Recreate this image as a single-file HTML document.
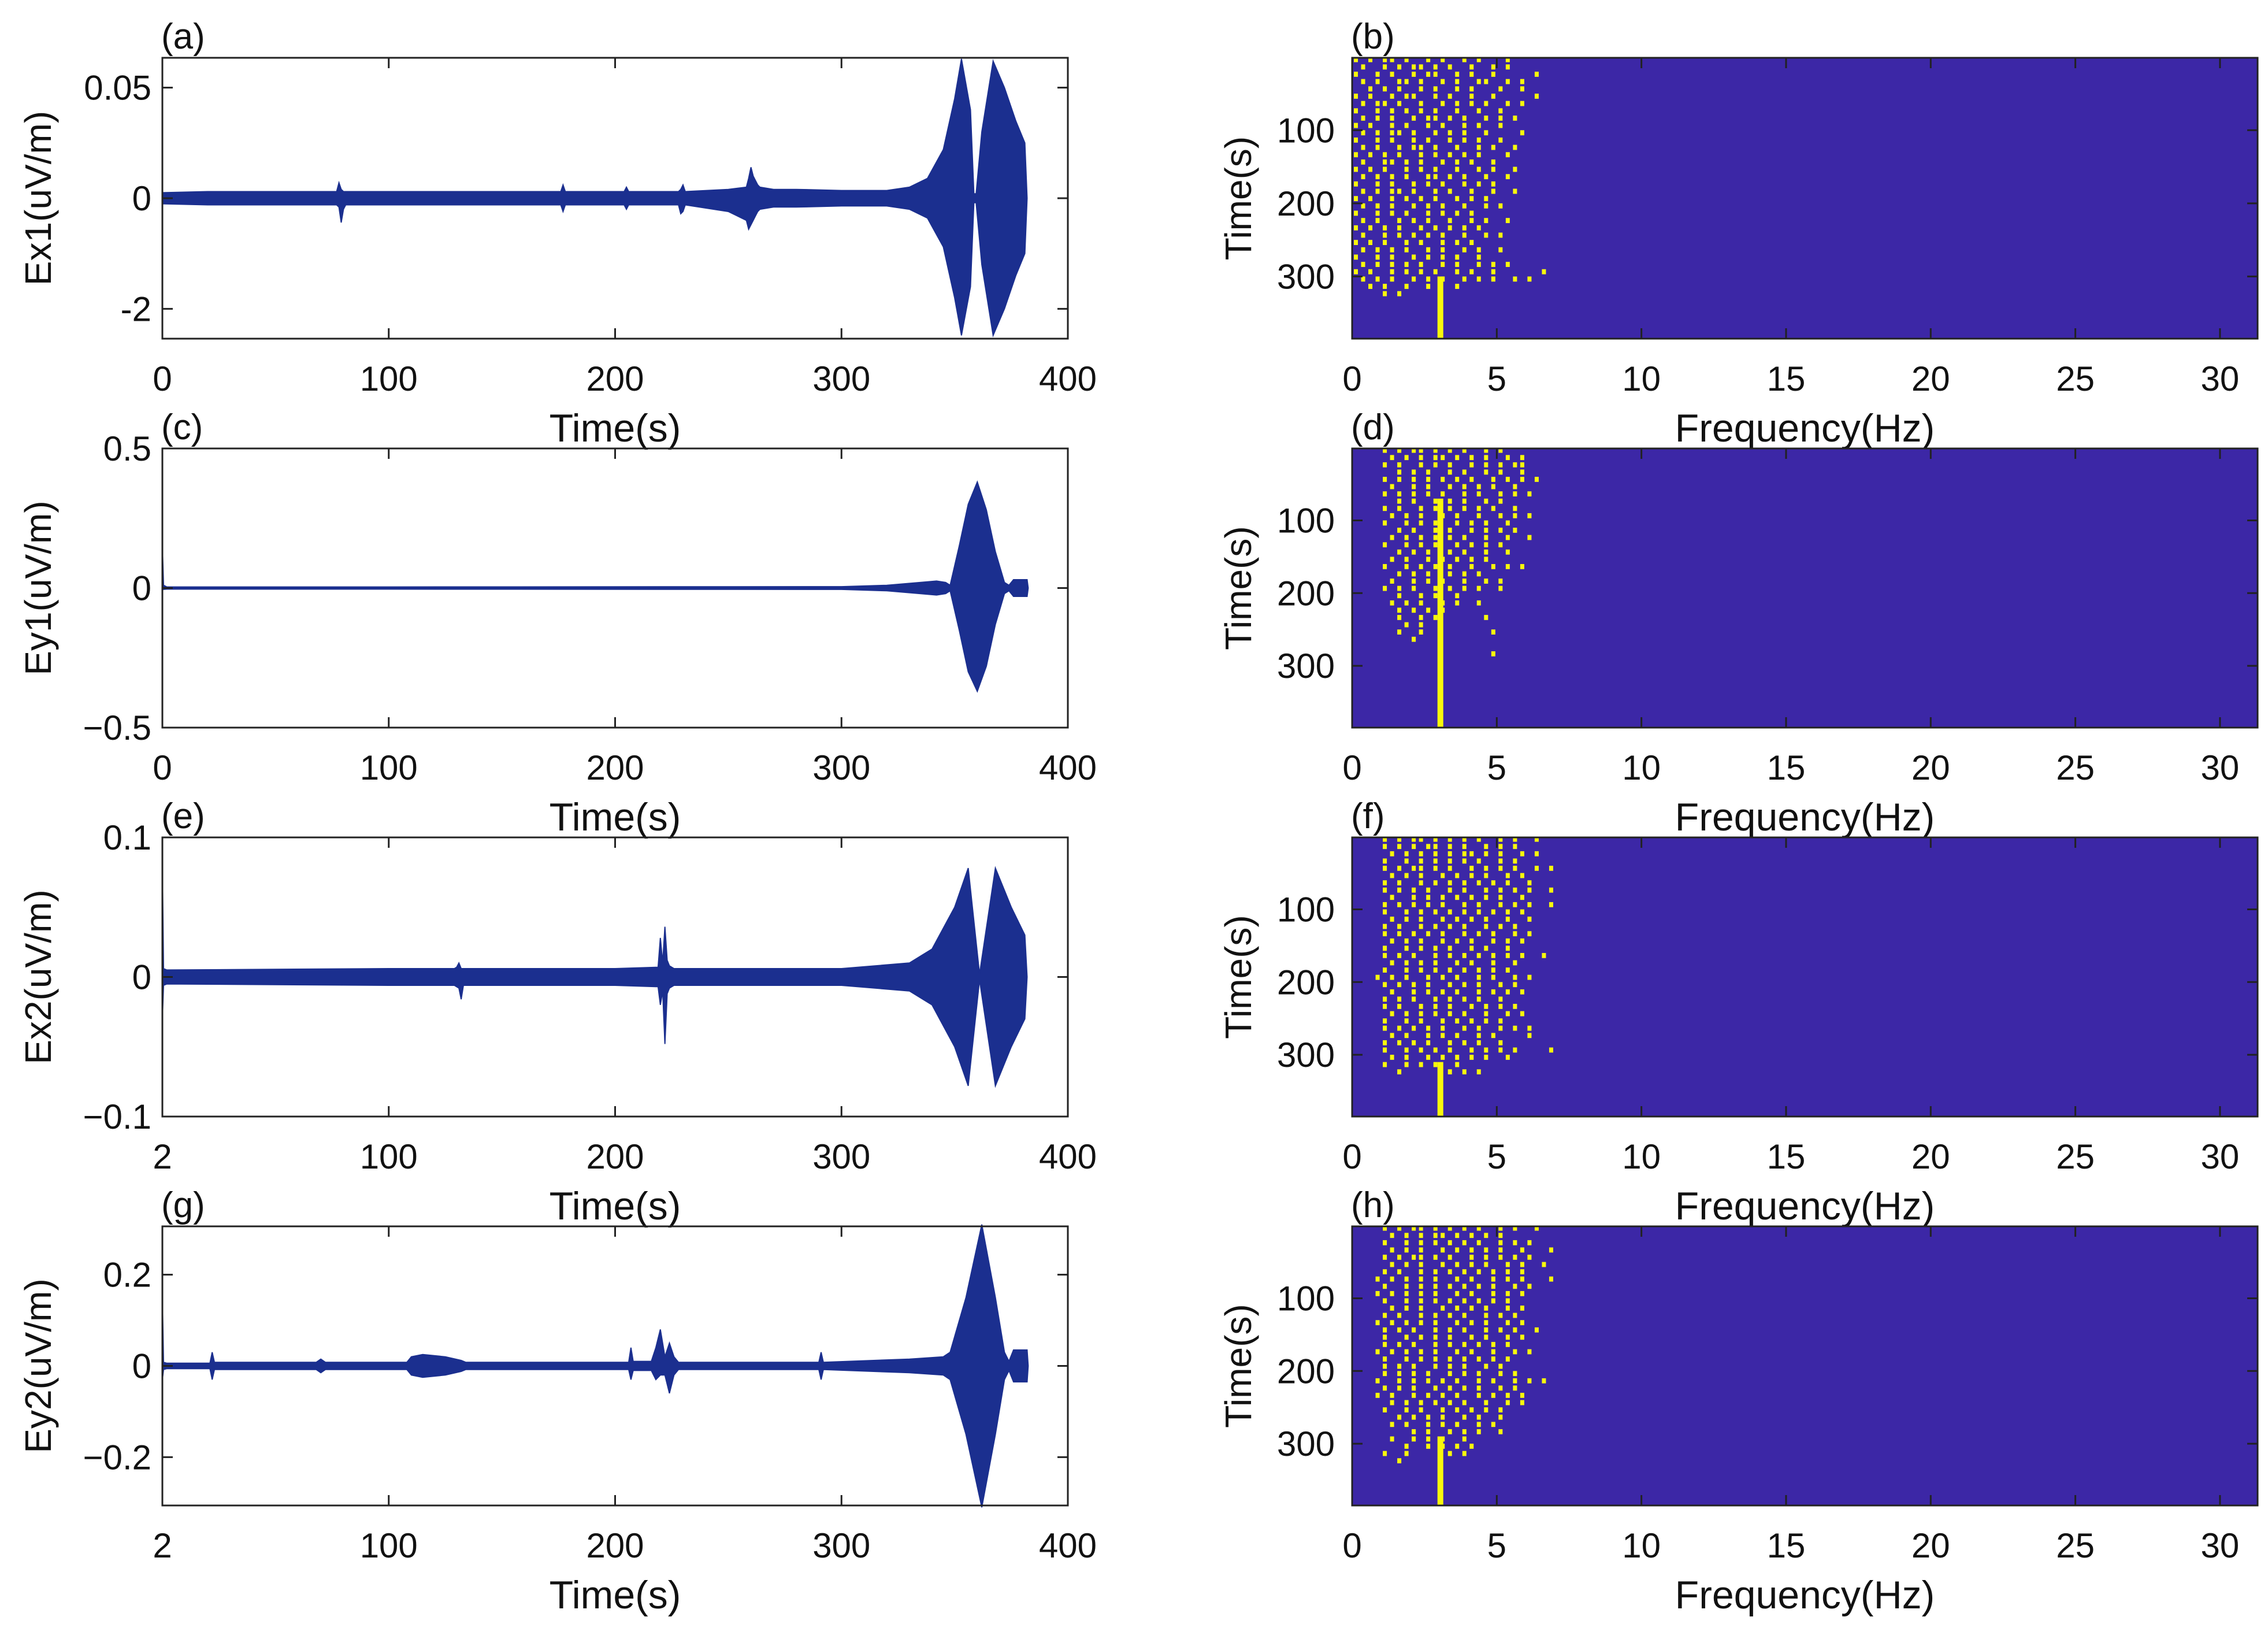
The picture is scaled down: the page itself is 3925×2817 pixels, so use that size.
<!DOCTYPE html>
<html><head><meta charset="utf-8">
<style>
html,body{margin:0;padding:0;background:#fff;}
svg{display:block;font-family:"Liberation Sans",Arial,sans-serif;}
</style></head>
<body>
<svg id="fig" width="3925" height="2817" viewBox="0 0 3925 2817" xmlns="http://www.w3.org/2000/svg"></svg>
<script>
// ---------- DATA ----------
const timeTicks = [0, 100, 200, 300, 400];
const freqTicks = [0, 5, 10, 15, 20, 25, 30];
const specTimeTicks = [100, 200, 300];

// panel (a) Ex1 envelope
const aTime = [0,20,76,77,78,79,80,81,82,90,120,175,176,177,178,179,200,204,205,206,228,229,230,231,250,258,259,260,261,262,263,264,270,280,300,320,330,338,345,350,353,357,358.5,359.5,362,367,372,377,381,382];
const aUp   = [0.0025,0.003,0.003,0.003,0.007,0.004,0.003,0.003,0.003,0.003,0.003,0.003,0.003,0.006,0.003,0.003,0.003,0.003,0.005,0.003,0.003,0.004,0.006,0.003,0.004,0.005,0.009,0.014,0.01,0.008,0.006,0.005,0.004,0.004,0.0035,0.0035,0.005,0.009,0.022,0.045,0.063,0.04,0.002,0.002,0.03,0.062,0.05,0.035,0.025,0];
const aDn   = [0.0025,0.003,0.003,0.003,0.004,0.011,0.005,0.003,0.003,0.003,0.003,0.003,0.003,0.006,0.003,0.003,0.003,0.003,0.005,0.003,0.003,0.007,0.006,0.003,0.006,0.01,0.014,0.012,0.01,0.008,0.006,0.005,0.004,0.004,0.0035,0.0035,0.005,0.009,0.022,0.045,0.062,0.04,0.002,0.002,0.03,0.062,0.05,0.035,0.025,0];
// panel (c) Ey1
const cTime = [0,0.5,2,100,300,320,335,342,346,348,352,356,360,364,368,372,374,376,382,382.5];
const cUp   = [0.15,0.01,0.004,0.004,0.005,0.01,0.02,0.025,0.02,0.01,0.15,0.3,0.38,0.28,0.13,0.02,0.01,0.03,0.03,0];
const cDn   = [0.005,0.005,0.004,0.004,0.005,0.01,0.02,0.025,0.02,0.01,0.15,0.3,0.37,0.28,0.13,0.02,0.01,0.03,0.03,0];
// panel (e) Ex2
const eTime = [0,0.5,2,100,129,130,131,132,133,200,219,220,221,222,223,224,226,300,330,340,350,356,361,368,375,381,382];
const eUp   = [0.08,0.006,0.005,0.006,0.006,0.007,0.01,0.006,0.006,0.006,0.007,0.028,0.01,0.036,0.012,0.008,0.006,0.006,0.01,0.02,0.05,0.078,0.002,0.078,0.05,0.03,0];
const eDn   = [0.03,0.006,0.005,0.006,0.006,0.007,0.008,0.016,0.006,0.006,0.007,0.02,0.01,0.048,0.012,0.008,0.006,0.006,0.01,0.02,0.05,0.078,0.002,0.078,0.05,0.03,0];
// panel (g) Ey2
const gTime = [0,0.5,2,21,22,23,68,70,72,108,110,115,125,132,134,200,206,207,208,210,212,216,218,220,222,224,226,228,290,291,292,330,345,348,355,362,368,372,374,376,382,382.5];
const gUp   = [0.15,0.008,0.006,0.006,0.03,0.008,0.008,0.015,0.008,0.008,0.02,0.025,0.02,0.012,0.008,0.008,0.008,0.04,0.01,0.01,0.01,0.01,0.04,0.08,0.02,0.05,0.02,0.008,0.008,0.03,0.008,0.015,0.02,0.03,0.15,0.31,0.15,0.03,0.01,0.035,0.035,0];
const gDn   = [0.03,0.008,0.006,0.006,0.03,0.008,0.008,0.015,0.008,0.008,0.02,0.025,0.02,0.012,0.008,0.008,0.008,0.03,0.01,0.01,0.01,0.01,0.03,0.02,0.02,0.06,0.02,0.008,0.008,0.03,0.008,0.015,0.02,0.03,0.15,0.31,0.15,0.03,0.01,0.035,0.035,0];

// spectrogram cells: rows = 10 s bins, cols = 0.25 Hz bins, '#' = yellow
const bRows = [
"#.#.##.#..#.#..#.#...#......",".#..#.#.##.#.#..#..#.#......","#..#.#..#.##..#.#..#.....#..",".#.#..##.#..#.#..##..#.#....",
"..#.#.#..#.#..#.#...#..#....","#.#..#.##..#.#..#..#.....#..",".#.##.#..#..#.#.#.#..#.#....","#..#.#.#.#.#..#..#..#.......",
".#.#.#..#.##.#.#..#.#.#.....","#.#..#.#..#.#..#.#..#.......",".#.#.##.#..#.#.#..#....#....","#..#.#..#.#..#.#.#..#.......",
".#.#..#.##.#..#..#.#..#.....","#.#.#.#..#.#.#.#.#...#......",".#..##.#.#..#.#.#..#........","#.#.#..#.#.#..#..#.#..#.....",
".#.#.#.#..##.#.#..#..#......","#..#.#..#.#.#..#.#.#........",".#.#.##.#..#.#..#..#..#.....","#.#..#.#.#.#..#.#.#.........",
".#.#.#..#.#.#..#..#.#.......","#..#.#.#..#.#.#.#...........",".#.#..#.#.#..#..#.#..#......","#.#.#.#..#.#.#.#.#..........",
".#..#.#.#.#.#..#..#.#.......","#.#.#..#.#..#.#.#...........",".#.#.#.#..#.#..#.#..#.......","#..#.#..#.#.#.#..#..........",
".#.#.#.#.#..#.#..#.#.#......","#.#..#.#.#.#..#.#..#......#.",".#.#.#..#.#.#..#.#.#..#.#...","..#.#..#..#...#.............",
"....#.#....................."];
const dRows = [
"....#.#.##.#.#.#..#.#.......",".....#.#.#.##.#.#.#..#.#....","....#.#..#.#.#..#.#.#.##....","......#.#.#..#.#..#.#..#....",
"....#.#.#.#.#.#.#..#.#.#.#..",".....#..#.#..#.#.#.#..#.....","....#.#.#.#.#..#.#..#.#.#...","......#.#..#.#.#..#.#.......",
"....#.#..#.#.#.#.#.#..#.....",".....#.#.#..#.#..#..#.#.#...","....#..#.#.#..#.#.#..#......","......#.#..#.#..#.#.#.#.....",
".....#.#.#.#.#.#..#..#..#...","....#..#.#.#..#.#.#.#.......","......#.#.#..#.#..#..#......",".....#.#..#.#.#.#.#.........",
"....#..#.#.#.#..#..#.#.#....","......#.#.#..#.#.#..........",".....#..#.#.#..#..#.#.......","....#.#.#..#.#.#.#..#.......",
"......#..#.#..#.............",".....#.#.#..#.#..#..........","......#.#.#.#...............","......#..#.#......#.........",
".......#.#..................","......#..#.........#........","........#...................","....................",
"...................#........"];
const fRows = [
"....#.#.##.#.#.#.#..#.#..#..","....#.#.#.##.#.#..#.#.#.....",".....#.#.#.#.#.##.#.#..#.#..","....#..#.#.#.#.#.#..#.#.....",
"....#.#.##.#.#..#.#.#.#..#.#",".....#.#.#..#.#.#.#..#.#....","....#.#..#.#.#.#.#.#.#..#...","....#.#.#.#..#.#..#.#.#.#..#",
".....#..#.#.#.#.#.#.#..#....","....#.#.#.#.#..#.#..#.#.#..#","....#..#.#.#.#.#.#.#.#.#....",".....#.#.#..#.#.#.#..#..#...",
"....#.#..#.#.#.#..#.#.#.....","....#.#.#.#.#..#.#.#..#.#...",".....#.#.#..#.#.#..#.#.#....","....#..#.#.#.#..#.#..#......",
"....#.#.#..#.#.#.#.#.#.#..#.",".....#.#.#.#..#.#..#..#.....","....#..#.#.#.#.#.#.#.#......","...#.#.#..#.#.#..#.#..#.#...",
"....#.#.#.#..#.#.#..#.#.....",".....#..#.#.#.#..#.#.#.#....","....#.#.#..#.#.#.#..#.......","....#.#..#.#.#..#.#.#.#.....",
".....#.#.#.#.#.#..#..#.#....","....#..#.#..#.#.#.#.#.......","....#.#.#.#.#..#.#..#.#.#...",".....#.#..#.#.#..#.#....#...",
"....#.#.#.#..#.#.#..#.......","....#..#.#.#.#..#.#.#.#....#",".....#.#..#.#.#.#.#..#......","....#..#.#.#..#.........",
"......#......#.#.#.........."];
const hRows = [
"....#.#.##.#.#.#.#..#.#..#..",".....#.#.#.##.#.#.#.#.......","....#..#.#.#.#.#.#..#.#.#...",".....#.#.#..#.#.#.#.#..#...#",
"....#.#.##.#.#..#.#.#.#.#...",".....#.#.#..#.#.#.#..#.#..#.","....#.#..#.#.#.#.#.#.#.#....","...#.#.#.#.#..#.#..#.#.#...#",
"....#..#.#.#.#.#.#.#..#.#...","...#.#.#.#.#..#.#..#.#.#....","....#..#.#.#.#.#.#.#.#......",".....#.#.#..#.#.#.#..#.#....",
"....#.#..#.#.#.#..#.#.#.....","...#.#.#.#.#..#.#.#..#.#....","....#.#.#..#.#.#..#.#.#..#..","....#..#.#.#.#..#.#..#.#....",
"....#.#.#..#.#.#.#.#.#......","...#.#.#.#.#..#.#..#..#.#...","....#..#.#.#.#.#.#.#.#......","....#.#.#..#.#.#..#.#.......",
"....#.#.#.#..#.#.#..#.#.....","...#..#.#.#.#.#..#.#..#.#.#.","....#.#.#..#.#.#.#..#.#.....","...#.#..#.#.#.#..#.#.#.#....",
".....#.#.#.#.#.#..#..#.#....","....#..#.#..#.#.#.#.#.......","......#.#.#.#..#.#..#.......",".....#.#..#.#.#..#.#........",
"........#.#..#.#.#..#.......",".....#..#.#.#..#............",".......#..#.#.#.#...........","....#..#.....#.#............",
"......#....................."];
// strong 3 Hz line: [frequency Hz, start time s]
const lineFreq = [3.05, 3.05, 3.05, 3.05];
const lineStart = [300, 70, 310, 290];

// ---------- LAYOUT ----------
const NS = "http://www.w3.org/2000/svg";
const svg = document.getElementById('fig');
const rowsTop = [100, 776, 1449, 2122];
const rowsBot = [586, 1259, 1932, 2605];
const LX0 = 281, LX1 = 1848, RX0 = 2340, RX1 = 3907;
const BLUE = "#3c27a6", YEL = "#f8f80c", SIG = "#1b2f8f";

function el(tag, attrs, parent) {
  const e = document.createElementNS(NS, tag);
  for (const k in attrs) e.setAttribute(k, attrs[k]);
  (parent || svg).appendChild(e);
  return e;
}
function txt(s, x, y, size, anchor, parent, rot) {
  const t = el('text', {x: x, y: y, 'font-size': size, 'text-anchor': anchor || 'middle', fill: '#111'}, parent);
  if (rot) t.setAttribute('transform', 'rotate(-90 ' + x + ' ' + y + ')');
  t.textContent = s;
  return t;
}

const waves = [
  {t: aTime, up: aUp, dn: aDn, lim: 0.0635, yt: [0.05, 0, -0.05], yl: ["0.05", "0", "-2"], ylab: "Ex1(uV/m)", tag: "(a)", first: "0"},
  {t: cTime, up: cUp, dn: cDn, lim: 0.5, yt: [0.5, 0, -0.5], yl: ["0.5", "0", "\u22120.5"], ylab: "Ey1(uV/m)", tag: "(c)", first: "0"},
  {t: eTime, up: eUp, dn: eDn, lim: 0.1, yt: [0.1, 0, -0.1], yl: ["0.1", "0", "\u22120.1"], ylab: "Ex2(uV/m)", tag: "(e)", first: "2"},
  {t: gTime, up: gUp, dn: gDn, lim: 0.306, yt: [0.2, 0, -0.2], yl: ["0.2", "0", "\u22120.2"], ylab: "Ey2(uV/m)", tag: "(g)", first: "2"}
];
const specs = [
  {rows: bRows, tag: "(b)"}, {rows: dRows, tag: "(d)"}, {rows: fRows, tag: "(f)"}, {rows: hRows, tag: "(h)"}
];

waves.forEach((w, i) => {
  const top = rowsTop[i], bot = rowsBot[i];
  const g = el('g', {});
  
  
  const xs = v => LX0 + (v - 0) / 400 * (LX1 - LX0);
  const ys = v => (top + bot) / 2 - v / w.lim * (bot - top) / 2;
  let pts = [];
  for (let k = 0; k < w.t.length; k++) pts.push(xs(w.t[k]).toFixed(1) + ',' + ys(w.up[k]).toFixed(1));
  for (let k = w.t.length - 1; k >= 0; k--) pts.push(xs(w.t[k]).toFixed(1) + ',' + ys(-w.dn[k]).toFixed(1));
  const p = el('polygon', {points: pts.join(' '), fill: SIG, stroke: SIG, 'stroke-width': 2}, g);
  
  
  const fr = el('rect', {x: LX0, y: top, width: LX1 - LX0, height: bot - top, fill: 'none', stroke: '#222', 'stroke-width': 3}, g);
  
  
  timeTicks.forEach((tv, k) => {
    const x = xs(tv);
    el('line', {x1: x, y1: bot, x2: x, y2: bot - 18, stroke: '#222', 'stroke-width': 3}, g);
    el('line', {x1: x, y1: top, x2: x, y2: top + 18, stroke: '#222', 'stroke-width': 3}, g);
    const lt = txt(k === 0 ? w.first : String(tv), x, bot + 90, 60, 'middle', g);
    
    
  });
  w.yt.forEach((yv, k) => {
    const y = ys(yv);
    el('line', {x1: LX0, y1: y, x2: LX0 + 18, y2: y, stroke: '#222', 'stroke-width': 3}, g);
    el('line', {x1: LX1, y1: y, x2: LX1 - 18, y2: y, stroke: '#222', 'stroke-width': 3}, g);
    const lt = txt(w.yl[k], 262, y + 21, 60, 'end', g);
    
    
  });
  const xt = txt("Time(s)", (LX0 + LX1) / 2, bot + 178, 68, 'middle', g);
  
  
  const yt = txt(w.ylab, 88, (top + bot) / 2, 64, 'middle', g, true);
  
  
  const pl = txt(w.tag, LX0 - 2, top - 16, 62, 'start', g);
  
  
});

specs.forEach((s, i) => {
  const top = rowsTop[i], bot = rowsBot[i];
  const g = el('g', {});
  
  
  const FMAX = 31.3, T0 = 1, T1 = 385;
  const xs = f => RX0 + f / FMAX * (RX1 - RX0);
  const ys = t => top + (t - T0) / (T1 - T0) * (bot - top);
  const bg = el('rect', {x: RX0, y: top, width: RX1 - RX0, height: bot - top, fill: BLUE}, g);
  
  
  s.rows.forEach((row, r) => {
    for (let c = 0; c < row.length; c++) {
      if (row[c] !== '#') continue;
      const f = c * 0.25, t = r * 10;
      const cell = el('rect', {x: xs(f + 0.06), y: ys(Math.max(t, T0)), width: xs(0.14) - xs(0), height: ys(t + 7) - ys(Math.max(t, T0)), fill: YEL}, g);
      
      
    }
  });
  const ln = el('rect', {x: xs(lineFreq[i] - 0.1), y: ys(lineStart[i]), width: xs(0.2) - xs(0), height: bot - ys(lineStart[i]), fill: YEL}, g);
  
  
  const fr = el('rect', {x: RX0, y: top, width: RX1 - RX0, height: bot - top, fill: 'none', stroke: '#222', 'stroke-width': 3}, g);
  
  
  freqTicks.forEach(fv => {
    const x = xs(fv);
    el('line', {x1: x, y1: bot, x2: x, y2: bot - 18, stroke: '#222', 'stroke-width': 3}, g);
    el('line', {x1: x, y1: top, x2: x, y2: top + 18, stroke: '#222', 'stroke-width': 3}, g);
    const lt = txt(String(fv), x, bot + 90, 60, 'middle', g);
    
    
  });
  specTimeTicks.forEach(tv => {
    const y = ys(tv);
    el('line', {x1: RX0, y1: y, x2: RX0 + 18, y2: y, stroke: '#222', 'stroke-width': 3}, g);
    el('line', {x1: RX1, y1: y, x2: RX1 - 18, y2: y, stroke: '#222', 'stroke-width': 3}, g);
    const lt = txt(String(tv), 2310, y + 21, 60, 'end', g);
    
    
  });
  const xt = txt("Frequency(Hz)", (RX0 + RX1) / 2, bot + 178, 68, 'middle', g);
  
  
  const yt = txt("Time(s)", 2165, (top + bot) / 2, 64, 'middle', g, true);
  
  
  const pl = txt(s.tag, RX0 - 2, top - 16, 62, 'start', g);
  
  
});
</script>
</body></html>
